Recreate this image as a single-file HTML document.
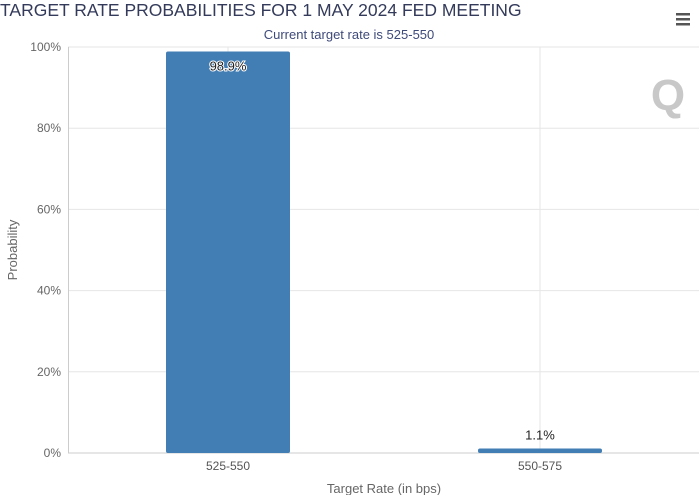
<!DOCTYPE html>
<html><head><meta charset="utf-8"><style>
body{margin:0;background:#fff;font-family:"Liberation Sans",sans-serif;}
svg text{font-family:"Liberation Sans",sans-serif;}
</style></head><body>
<svg width="699" height="495" xmlns="http://www.w3.org/2000/svg">
<text x="0" y="16" font-size="17.5" fill="#333a5a">TARGET RATE PROBABILITIES FOR 1 MAY 2024 FED MEETING</text>
<text x="349" y="39" font-size="13" fill="#3e4a7a" text-anchor="middle">Current target rate is 525-550</text>
<g>
<rect x="676" y="13" width="14" height="2.5" fill="#555"/><rect x="676" y="18" width="14" height="2.5" fill="#555"/><rect x="676" y="23" width="14" height="2.5" fill="#555"/></g>
<g id="grid"></g><g id="bars"></g><g id="labels"></g>
<text x="668" y="110" font-size="44" font-weight="bold" fill="#c8c8c8" text-anchor="middle">Q</text>
<text x="384" y="493" font-size="13" fill="#666" text-anchor="middle">Target Rate (in bps)</text>
<text transform="translate(17,250) rotate(-90)" font-size="13" fill="#666" text-anchor="middle">Probability</text>
</svg>
<script>
const categories=["525-550","550-575"];
const values=[98.9,1.1];
const valueLabels=["98.9%","1.1%"];
const yTicks=[0,20,40,60,80,100];
const NS="http://www.w3.org/2000/svg";
const y=v=>453-v*4.06;
const x=i=>228+312*i;
function mk(tag,attrs,parent,text){const e=document.createElementNS(NS,tag);for(const k in attrs)e.setAttribute(k,attrs[k]);if(text!==undefined)e.textContent=text;document.getElementById(parent).appendChild(e);return e;}
yTicks.forEach(t=>{
 const l=mk('line',{x1:68,x2:699,y1:y(t),y2:y(t),stroke:t===0?'#ccc':'#e6e6e6','stroke-width':1},'grid');
 
 
 const tx=mk('text',{x:61,y:y(t)+4,'font-size':12,fill:'#666','text-anchor':'end'},'grid',t+'%');
 
 
});
mk('line',{x1:68.5,x2:68.5,y1:y(100),y2:y(0),stroke:'#ccc'},'grid');
categories.forEach((c,i)=>{
 const g=mk('line',{x1:x(i),x2:x(i),y1:y(100),y2:y(0),stroke:'#e6e6e6'},'grid');
 
 
 const b=mk('rect',{x:x(i)-62,y:y(values[i]),width:124,height:y(0)-y(values[i]),fill:'#427db4',rx:2},'bars');
 
 
 const tl=mk('text',{x:x(i),y:470,'font-size':12,fill:'#555','text-anchor':'middle'},'labels',c);
 
 
 const inside=values[i]>10;
 const vl=mk('text',{x:x(i),y:inside?y(values[i])+19:y(values[i])-9,'font-size':13,fill:'#222','text-anchor':'middle',stroke:inside?'#fff':'none','stroke-width':inside?2:0,'paint-order':'stroke'},'labels',valueLabels[i]);
 
 
});
</script>
</body></html>
